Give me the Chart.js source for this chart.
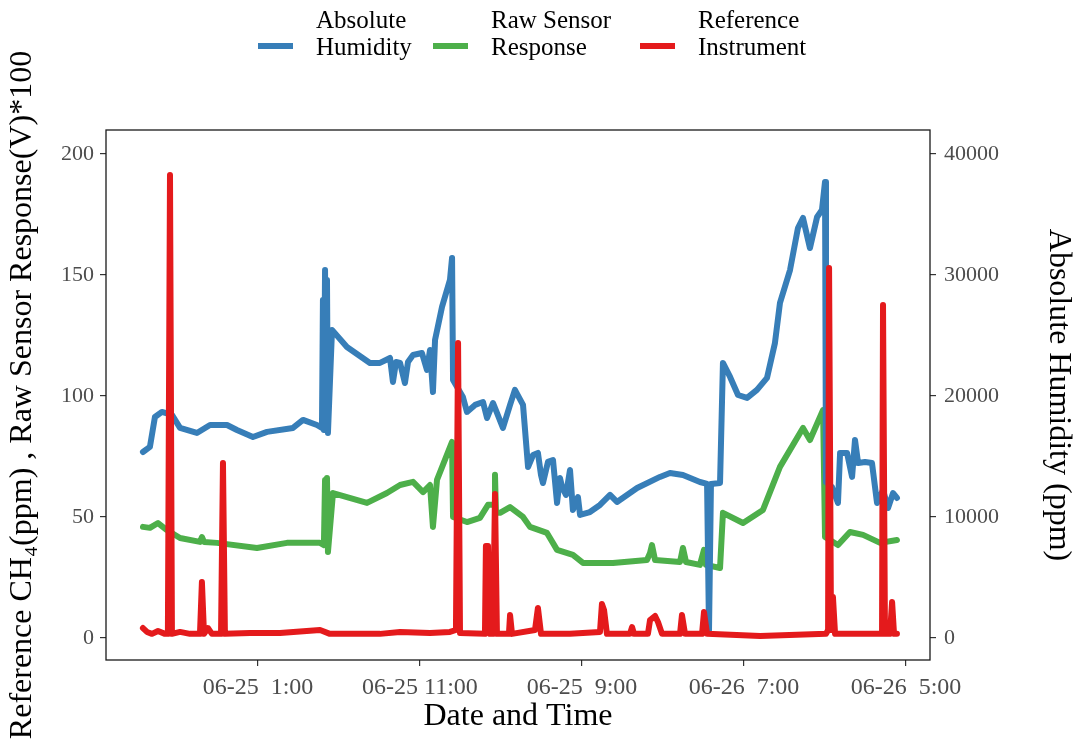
<!DOCTYPE html>
<html>
<head>
<meta charset="utf-8">
<script src="https://cdn.jsdelivr.net/npm/chart.js@4.4.1/dist/chart.umd.min.js"></script>
<style>
  html, body { margin: 0; padding: 0; background: #ffffff; }
  canvas { display: block; }
</style>
</head>
<body>
<canvas id="c" width="1079" height="746"></canvas>
<script>
// ---- Data (x = hours relative to 06-25 1:00) ----
const seriesNames = [['Absolute', 'Humidity'], ['Raw Sensor', 'Response'], ['Reference', 'Instrument']];

const humidityHours = [-7.10, -6.67, -6.36, -5.93, -5.31, -4.81, -3.77, -2.96, -1.91, -1.30, -0.31, 0.56, 2.16, 2.78, 3.64, 3.95, 4.01, 4.07, 4.14, 4.20, 4.26, 4.32, 4.57, 5.49, 6.91, 7.53, 8.15, 8.33, 8.52, 8.77, 9.07, 9.26, 9.57, 10.12, 10.43, 10.62, 10.80, 10.93, 11.36, 11.85, 11.98, 12.04, 12.65, 12.90, 13.40, 13.89, 14.14, 14.51, 15.12, 15.56, 15.86, 16.36, 16.67, 16.98, 17.28, 17.47, 17.59, 17.90, 18.21, 18.46, 18.64, 18.77, 19.01, 19.26, 19.44, 19.75, 19.88, 20.49, 21.11, 21.73, 22.16, 23.40, 24.81, 25.43, 26.23, 27.28, 27.72, 27.84, 27.96, 28.52, 28.70, 29.14, 29.63, 30.19, 30.80, 31.42, 31.91, 32.22, 32.84, 33.33, 33.64, 34.07, 34.51, 34.81, 35.00, 35.06, 35.43, 35.80, 35.93, 36.36, 36.67, 36.85, 37.04, 37.47, 37.90, 38.21, 38.58, 38.89, 39.20, 39.44];
const humidityPpm = [15370, 15790, 18260, 18680, 18430, 17360, 16940, 17600, 17600, 17190, 16610, 17030, 17360, 18020, 17600, 17360, 27930, 17190, 30410, 17360, 29590, 16940, 25460, 24050, 22730, 22730, 23140, 21160, 22810, 22730, 21070, 22810, 23390, 23550, 22150, 23800, 20330, 24630, 27360, 29590, 31410, 21320, 19920, 18680, 19260, 19500, 18180, 19420, 17360, 19260, 20500, 19260, 14130, 15120, 15290, 13470, 12810, 14550, 14710, 11160, 13220, 12480, 11820, 13880, 10580, 11650, 10170, 10410, 10990, 11820, 11240, 12400, 13310, 13640, 13470, 12890, 12730, 660, 12730, 12810, 22730, 21570, 20080, 19840, 20500, 21490, 24380, 27690, 30410, 33880, 34710, 32230, 34790, 35370, 37690, 12890, 12480, 11160, 15290, 15290, 13310, 16360, 14460, 14550, 14460, 11160, 12230, 10740, 11980, 11570];

const sensorHours = [-7.10, -6.67, -6.17, -5.62, -4.81, -3.58, -3.46, -3.33, -2.53, -0.06, 1.79, 3.83, 4.07, 4.14, 4.20, 4.26, 4.32, 4.63, 6.73, 7.96, 8.77, 9.57, 10.19, 10.62, 10.80, 11.05, 11.98, 12.04, 12.90, 13.70, 14.20, 14.57, 14.63, 14.69, 14.94, 15.56, 16.36, 16.79, 17.84, 18.46, 19.44, 20.06, 21.91, 24.01, 24.20, 24.32, 24.51, 26.05, 26.23, 26.42, 27.28, 27.53, 27.65, 28.52, 28.70, 29.94, 31.17, 32.22, 33.64, 34.07, 34.88, 35.00, 35.80, 36.54, 37.35, 38.40, 39.44];
const sensorResponse = [45.9, 45.5, 47.5, 44.6, 41.3, 39.7, 41.7, 39.7, 39.3, 37.2, 39.3, 39.3, 38.4, 65.3, 38.4, 66.1, 35.5, 59.9, 55.8, 59.9, 63.2, 64.5, 60.3, 63.2, 45.9, 65.3, 81.0, 50.0, 47.9, 49.6, 55.0, 55.0, 67.4, 51.7, 51.7, 54.1, 50.0, 45.9, 43.4, 36.4, 34.3, 31.0, 31.0, 32.2, 35.1, 38.4, 32.2, 31.4, 37.2, 31.4, 30.2, 36.4, 30.2, 28.9, 51.7, 47.5, 52.9, 70.7, 86.8, 81.8, 94.2, 41.7, 38.4, 43.8, 42.6, 39.3, 40.5];

const referenceHours = [-7.10, -6.85, -6.54, -6.17, -5.74, -5.56, -5.43, -5.31, -4.81, -4.20, -3.58, -3.46, -3.33, -3.09, -2.84, -2.28, -2.16, -2.04, -0.49, 1.36, 3.83, 4.44, 7.53, 8.77, 10.62, 11.85, 12.22, 12.35, 12.47, 14.01, 14.07, 14.20, 14.32, 14.51, 14.63, 14.75, 15.49, 15.56, 15.68, 17.10, 17.28, 17.47, 19.26, 21.11, 21.23, 21.36, 21.54, 22.96, 23.09, 23.21, 24.07, 24.20, 24.51, 24.69, 24.94, 26.05, 26.17, 26.36, 27.41, 27.53, 27.72, 31.00, 35.06, 35.19, 35.25, 35.37, 35.49, 35.62, 38.40, 38.52, 38.58, 38.70, 39.01, 39.14, 39.26, 39.44];
const referenceCH4 = [4.1, 2.5, 1.7, 2.9, 1.7, 1.7, 191.3, 1.7, 2.5, 1.7, 1.7, 23.1, 1.7, 4.1, 1.7, 1.7, 72.3, 1.7, 2.1, 2.1, 3.3, 1.7, 1.7, 2.5, 2.1, 2.5, 3.3, 121.9, 2.1, 1.7, 38.0, 38.0, 1.7, 1.7, 59.5, 1.7, 1.7, 9.5, 1.7, 3.3, 12.4, 1.7, 1.7, 2.5, 14.0, 11.6, 1.7, 1.7, 4.5, 1.7, 1.7, 7.4, 9.1, 6.6, 1.7, 1.7, 9.5, 1.7, 1.7, 10.7, 1.7, 0.8, 1.7, 3.3, 152.9, 3.3, 16.9, 1.7, 1.7, 1.7, 137.6, 1.7, 1.7, 14.9, 1.7, 1.7];

const xTickHours = [0, 10, 20, 30, 40];
const xTickLabels = ['06-25  1:00', '06-25 11:00', '06-25  9:00', '06-26  7:00', '06-26  5:00'];
const yLeftTicks = [0, 50, 100, 150, 200];
const yRightTicks = [0, 10000, 20000, 30000, 40000];

// ---- Styles ----
const COLORS = ['#377EB8', '#4DAF4A', '#E41A1C'];
const SERIF = '"Liberation Serif", "Times New Roman", "DejaVu Serif", serif';
const TICK_COLOR = '#4D4D4D';

const toPts = (xs, ys) => xs.map((x, i) => ({ x: x, y: ys[i] }));

const lineStyle = {
  borderWidth: 6,
  pointRadius: 0,
  fill: false,
  tension: 0,
  borderCapStyle: 'round',
  borderJoinStyle: 'round'
};

const framePlugin = {
  id: 'frame',
  afterDatasetsDraw(chart) {
    const { ctx, chartArea: a } = chart;
    ctx.save();
    ctx.strokeStyle = '#1a1a1a';
    ctx.lineWidth = 1.3;
    ctx.strokeRect(a.left, a.top, a.right - a.left, a.bottom - a.top);
    ctx.restore();
  }
};

const legendPlugin = {
  id: 'customLegend',
  afterDraw(chart) {
    const { ctx } = chart;
    const keyX = [258, 433, 640];
    ctx.save();
    ctx.font = '25px ' + SERIF;
    ctx.textBaseline = 'middle';
    ctx.textAlign = 'left';
    seriesNames.forEach((lines, i) => {
      ctx.strokeStyle = COLORS[i];
      ctx.lineWidth = 6;
      ctx.lineCap = 'butt';
      ctx.beginPath();
      ctx.moveTo(keyX[i], 46);
      ctx.lineTo(keyX[i] + 35, 46);
      ctx.stroke();
      ctx.fillStyle = '#000000';
      ctx.fillText(lines[0], keyX[i] + 58, 21);
      ctx.fillText(lines[1], keyX[i] + 58, 48);
    });
    ctx.restore();
  }
};

new Chart(document.getElementById('c'), {
  type: 'line',
  data: {
    datasets: [
      Object.assign({ label: 'Reference Instrument', data: toPts(referenceHours, referenceCH4), borderColor: COLORS[2], yAxisID: 'y' }, lineStyle),
      Object.assign({ label: 'Absolute Humidity', data: toPts(humidityHours, humidityPpm), borderColor: COLORS[0], yAxisID: 'y1' }, lineStyle),
      Object.assign({ label: 'Raw Sensor Response', data: toPts(sensorHours, sensorResponse), borderColor: COLORS[1], yAxisID: 'y' }, lineStyle)
    ]
  },
  options: {
    responsive: false,
    animation: false,
    layout: { padding: { top: 130, left: 0, right: 0, bottom: 0 } },
    plugins: { legend: { display: false }, tooltip: { enabled: false } },
    scales: {
      x: {
        type: 'linear',
        min: -9.38,
        max: 41.48,
        afterBuildTicks: s => { s.ticks = xTickHours.map(v => ({ value: v })); },
        afterFit: s => { s.height = 86; },
        grid: { drawOnChartArea: false, tickLength: 6, color: '#333333', lineWidth: 1.2 },
        border: { display: false },
        ticks: {
          autoSkip: false, maxRotation: 0, padding: 7,
          color: TICK_COLOR, font: { family: SERIF, size: 24 },
          callback: v => { const i = xTickHours.indexOf(v); return i >= 0 ? xTickLabels[i] : ''; }
        },
        title: { display: true, text: 'Date and Time', color: '#000', font: { family: SERIF, size: 32 }, padding: { top: 0, bottom: 10 } }
      },
      y: {
        position: 'left',
        min: -9.1,
        max: 209.9,
        afterBuildTicks: s => { s.ticks = yLeftTicks.map(v => ({ value: v })); },
        afterFit: s => { s.width = 106; },
        grid: { drawOnChartArea: false, tickLength: 6, color: '#333333', lineWidth: 1.2 },
        border: { display: false },
        ticks: { padding: 6, color: TICK_COLOR, font: { family: SERIF, size: 22 }, callback: v => String(v) },
        title: { display: true, text: 'Reference CH\u2084(ppm) , Raw Sensor Response(V)*100', color: '#000', font: { family: SERIF, size: 32 }, padding: { top: 3, bottom: 0 } }
      },
      y1: {
        position: 'right',
        min: -1820,
        max: 41980,
        afterBuildTicks: s => { s.ticks = yRightTicks.map(v => ({ value: v })); },
        afterFit: s => { s.width = 149; },
        grid: { drawOnChartArea: false, tickLength: 6, color: '#333333', lineWidth: 1.2 },
        border: { display: false },
        ticks: { padding: 8, color: TICK_COLOR, font: { family: SERIF, size: 22 }, callback: v => String(v) },
        title: { display: true, text: 'Absolute Humidity (ppm)', color: '#000', font: { family: SERIF, size: 32 }, padding: { top: 1, bottom: 0 } }
      }
    }
  },
  plugins: [framePlugin, legendPlugin]
});
</script>
</body>
</html>
